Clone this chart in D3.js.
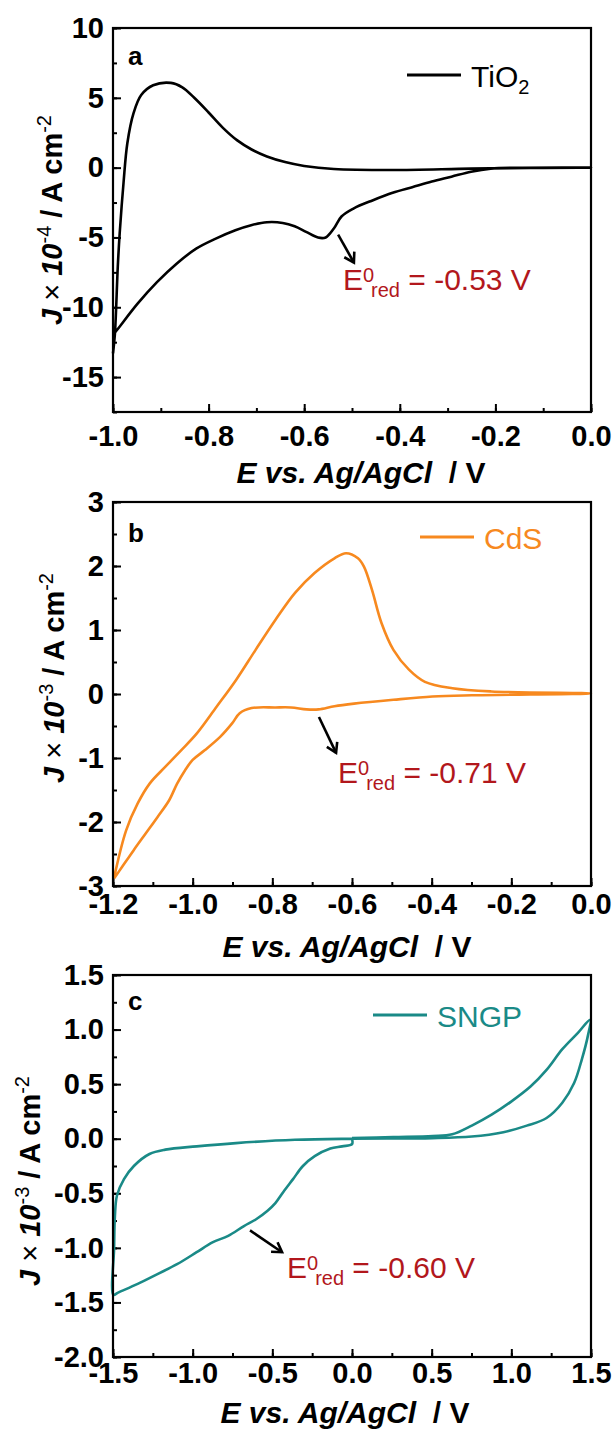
<!DOCTYPE html>
<html>
<head>
<meta charset="utf-8">
<script src="https://cdn.jsdelivr.net/npm/d3@7"></script>
<style>
  body { margin: 0; background: #fff; }
  text { font-family: Arial, "Liberation Sans", sans-serif; }
</style>
</head>
<body>
<div id="chart"></div>
<script>
// ---- values (E in V, J in the panel's units) ----

// a: TiO2, J x 10^-4 A cm^-2
const tio2E = [-1.000, -0.996, -0.990, -0.986, -0.978, -0.970, -0.957, -0.941, -0.916, -0.879,
  -0.855, -0.830, -0.800, -0.770, -0.740, -0.710, -0.678, -0.640, -0.600, -0.538, -0.415, -0.251,
  -0.127, 0.000, -0.150, -0.210, -0.251, -0.292, -0.333, -0.374, -0.415, -0.456, -0.497, -0.522,
  -0.538, -0.555, -0.571, -0.596, -0.620, -0.645, -0.678, -0.711, -0.744, -0.785, -0.826, -0.867,
  -0.908, -0.949, -0.990, -0.998];
const tio2J = [-13.3, -11.9, -7.1, -4.7, -1.1, 1.75, 3.9, 5.2, 5.9, 6.07,
  5.75, 5.0, 3.95, 2.85, 1.95, 1.3, 0.8, 0.4, 0.12, -0.1, -0.17, -0.07,
  -0.02, 0.0, -0.01, -0.07, -0.29, -0.65, -1.0, -1.4, -1.8, -2.33, -2.93, -3.5,
  -4.36, -5.0, -5.01, -4.6, -4.2, -3.96, -3.91, -4.12, -4.48, -5.08, -5.8, -6.88,
  -8.2, -9.76, -11.56, -11.9];

// b: CdS, J x 10^-3 A cm^-2
const cdsE = [-1.197, -1.167, -1.138, -1.108, -1.069, -1.029, -0.990, -0.940, -0.891, -0.842,
  -0.792, -0.743, -0.694, -0.644, -0.615, -0.585, -0.570, -0.550, -0.526, -0.496, -0.457, -0.417,
  -0.348, -0.250, 0.000, -0.299, -0.398, -0.496, -0.595, -0.644, -0.684, -0.714, -0.753, -0.792,
  -0.852, -0.882, -0.901, -0.931, -0.970, -1.000, -1.019, -1.039, -1.059, -1.088, -1.118, -1.148,
  -1.177, -1.197];
const cdsJ = [-2.86, -2.13, -1.71, -1.40, -1.14, -0.88, -0.62, -0.20, 0.22, 0.69,
  1.16, 1.58, 1.89, 2.12, 2.20, 2.12, 1.99, 1.63, 1.11, 0.69, 0.38, 0.19,
  0.09, 0.04, 0.01, -0.02, -0.04, -0.09, -0.15, -0.19, -0.24, -0.24, -0.21, -0.21,
  -0.22, -0.30, -0.46, -0.67, -0.88, -1.03, -1.19, -1.40, -1.66, -1.92, -2.18, -2.44,
  -2.70, -2.88];

// c: SNGP, J x 10^-3 A cm^-2
const sngpE = [0.000, 0.000, -0.062, -0.136, -0.234, -0.308, -0.370, -0.432, -0.481, -0.530,
  -0.604, -0.678, -0.777, -0.876, -0.975, -1.098, -1.221, -1.345, -1.468, -1.497, -1.493, -1.488,
  -1.475, -1.431, -1.369, -1.271, -1.172, -0.975, -0.728, -0.358, 0.000, 0.506, 0.752, 0.950,
  1.097, 1.221, 1.320, 1.394, 1.443, 1.480, 1.495, 1.418, 1.320, 1.221, 1.122, 0.999, 0.876,
  0.752, 0.629, 0.506, 0.259, 0.000];
const sngpJ = [0.00, -0.05, -0.07, -0.09, -0.16, -0.25, -0.37, -0.49, -0.59, -0.66,
  -0.74, -0.80, -0.89, -0.95, -1.04, -1.15, -1.24, -1.33, -1.41, -1.43, -1.00, -0.71,
  -0.52, -0.37, -0.25, -0.14, -0.10, -0.07, -0.04, -0.01, 0.00, 0.005, 0.02, 0.06,
  0.12, 0.19, 0.33, 0.51, 0.73, 0.94, 1.09, 0.97, 0.82, 0.63, 0.48, 0.34, 0.22,
  0.12, 0.04, 0.024, 0.015, 0.006];

// ticks
const xTicksA = [-1.0, -0.8, -0.6, -0.4, -0.2, 0.0];
const xLabelsA = ["-1.0", "-0.8", "-0.6", "-0.4", "-0.2", "0.0"];
const yTicksA = [10, 5, 0, -5, -10, -15];
const yLabelsA = ["10", "5", "0", "-5", "-10", "-15"];

const xTicksB = [-1.2, -1.0, -0.8, -0.6, -0.4, -0.2, 0.0];
const xLabelsB = ["-1.2", "-1.0", "-0.8", "-0.6", "-0.4", "-0.2", "0.0"];
const yTicksB = [3, 2, 1, 0, -1, -2, -3];
const yLabelsB = ["3", "2", "1", "0", "-1", "-2", "-3"];

const xTicksC = [-1.5, -1.0, -0.5, 0.0, 0.5, 1.0, 1.5];
const xLabelsC = ["-1.5", "-1.0", "-0.5", "0.0", "0.5", "1.0", "1.5"];
const yTicksC = [1.5, 1.0, 0.5, 0.0, -0.5, -1.0, -1.5, -2.0];
const yLabelsC = ["1.5", "1.0", "0.5", "0.0", "-0.5", "-1.0", "-1.5", "-2.0"];

// labelled reduction peaks: [arrow start E, J, arrow tip E, J, text E, J]
const peakA = [-0.529, -4.8, -0.496, -6.8, -0.519, -8.74];
const peakB = [-0.683, -0.36, -0.640, -0.92, -0.635, -1.39];
const peakC = [-0.640, -0.84, -0.439, -1.04, -0.408, -1.28];

const svg = d3.select("#chart").append("svg")
    .attr("width", 616)
    .attr("height", 1429)
    .style("background", "#fff");

const panels = [
  { E: tio2E, J: tio2J, xDomain: [-1.0, 0.0], yDomain: [-17.5, 10], top: 28, bottom: 412,
    xTicks: xTicksA, xLabels: xLabelsA, xMinorStep: 0.1, yTicks: yTicksA, yLabels: yLabelsA, yMinorStep: 2.5,
    color: "#000", name: "TiO", sub: "2", exp: "-4", letter: "a", peak: peakA, peakText: " = -0.53 V",
    xPad: 13, xTitleX: 361, xTitleY: 483, yTitleX: 62, yTitleY: 220,
    legX: 294, legY: 47, letterY: 37 },
  { E: cdsE, J: cdsJ, xDomain: [-1.2, 0.0], yDomain: [-3, 3], top: 502, bottom: 886,
    xTicks: xTicksB, xLabels: xLabelsB, xMinorStep: 0.1, yTicks: yTicksB, yLabels: yLabelsB, yMinorStep: 0.5,
    color: "#f7891f", name: "CdS", sub: "", exp: "-3", letter: "b", peak: peakB, peakText: " = -0.71 V",
    xPad: 7, xTitleX: 347, xTitleY: 957, yTitleX: 64, yTitleY: 678,
    legX: 307, legY: 35, letterY: 40 },
  { E: sngpE, J: sngpJ, xDomain: [-1.5, 1.5], yDomain: [-2.0, 1.5], top: 975, bottom: 1357,
    xTicks: xTicksC, xLabels: xLabelsC, xMinorStep: 0.25, yTicks: yTicksC, yLabels: yLabelsC, yMinorStep: 0.25,
    color: "#1a8a87", name: "SNGP", sub: "", exp: "-3", letter: "c", peak: peakC, peakText: " = -0.60 V",
    xPad: 5, xTitleX: 345, xTitleY: 1423, yTitleX: 40, yTitleY: 1181,
    legX: 260, legY: 40, letterY: 35 }
];

const left = 113, right = 591;

panels.forEach(p => {
  const x = d3.scaleLinear().domain(p.xDomain).range([left, right]);
  const y = d3.scaleLinear().domain(p.yDomain).range([p.bottom, p.top]);
  const g = svg.append("g");

  // minor ticks
  const xMinor = d3.range(p.xDomain[0], p.xDomain[1] + 1e-9, p.xMinorStep);
  const yMinor = d3.range(p.yDomain[0], p.yDomain[1] + 1e-9, p.yMinorStep);
  g.append("g").attr("transform", `translate(0,${p.bottom})`)
      .call(d3.axisBottom(x).tickValues(xMinor).tickSize(-4).tickFormat(""));
  g.append("g").attr("transform", `translate(${left},0)`)
      .call(d3.axisLeft(y).tickValues(yMinor).tickSize(-4).tickFormat(""));

  // major ticks and labels
  g.append("g").attr("transform", `translate(0,${p.bottom})`)
      .call(d3.axisBottom(x).tickValues(p.xTicks).tickSize(-8).tickPadding(p.xPad)
        .tickFormat((d, i) => p.xLabels[i]));
  g.append("g").attr("transform", `translate(${left},0)`)
      .call(d3.axisLeft(y).tickValues(p.yTicks).tickSize(-8).tickPadding(9)
        .tickFormat((d, i) => p.yLabels[i]));

  g.selectAll(".domain").remove();
  g.selectAll(".tick line").attr("stroke", "#000").attr("stroke-width", 2);
  g.selectAll(".tick text")
      .attr("fill", "#000")
      .style("font-size", "29px")
      .style("font-weight", "bold")
      .style("font-family", "Arial, 'Liberation Sans', sans-serif");

  // the CV loop
  const line = d3.line()
      .x(d => x(d[0]))
      .y(d => y(d[1]))
      .curve(d3.curveCatmullRom.alpha(0.5));
  g.append("path")
      .datum(d3.zip(p.E, p.J))
      .attr("fill", "none")
      .attr("stroke", p.color)
      .attr("stroke-width", 2.6)
      .attr("stroke-linejoin", "round")
      .attr("d", line);

  // frame
  g.append("rect")
      .attr("x", left).attr("y", p.top)
      .attr("width", right - left).attr("height", p.bottom - p.top)
      .attr("fill", "none").attr("stroke", "#000").attr("stroke-width", 2.2);

  // panel letter
  g.append("text")
      .attr("x", left + 15).attr("y", p.top + p.letterY)
      .style("font-size", "26px").style("font-weight", "bold")
      .text(p.letter);

  // legend
  const lx = left + p.legX, ly = p.top + p.legY;
  g.append("line")
      .attr("x1", lx).attr("x2", lx + 54).attr("y1", ly).attr("y2", ly)
      .attr("stroke", p.color).attr("stroke-width", 2.8);
  const lt = g.append("text")
      .attr("x", lx + 64).attr("y", ly + 12)
      .attr("fill", p.color)
      .style("font-size", "30px");
  lt.append("tspan").text(p.name);
  if (p.sub) lt.append("tspan").attr("dy", 7).style("font-size", "20px").text(p.sub);

  // peak arrow + label
  const [sx, sy, tx, ty, txE, txJ] = p.peak;
  const x1 = x(sx), y1 = y(sy), x2 = x(tx), y2 = y(ty);
  const ang = Math.atan2(y2 - y1, x2 - x1);
  const ah = 11;
  g.append("line")
      .attr("x1", x1).attr("y1", y1).attr("x2", x2).attr("y2", y2)
      .attr("stroke", "#000").attr("stroke-width", 2.6);
  g.append("path")
      .attr("d", `M${x2 - ah * Math.cos(ang - 0.55)},${y2 - ah * Math.sin(ang - 0.55)}L${x2},${y2}L${x2 - ah * Math.cos(ang + 0.55)},${y2 - ah * Math.sin(ang + 0.55)}`)
      .attr("fill", "none").attr("stroke", "#000").attr("stroke-width", 2.6)
      .attr("stroke-linejoin", "miter");
  const at = g.append("text")
      .attr("x", x(txE)).attr("y", y(txJ))
      .attr("fill", "#b2171c")
      .style("font-size", "30px");
  at.append("tspan").text("E");
  at.append("tspan").attr("dy", -8).style("font-size", "20px").text("0");
  at.append("tspan").attr("dx", -3).attr("dy", 15).style("font-size", "20px").text("red");
  at.append("tspan").attr("dy", -7).style("white-space", "pre").text(p.peakText);

  // x title
  const xt = g.append("text")
      .attr("x", p.xTitleX).attr("y", p.xTitleY)
      .attr("text-anchor", "middle")
      .style("font-size", "30px").style("font-weight", "bold")
      .style("white-space", "pre");
  xt.append("tspan").style("font-style", "italic").text("E vs. Ag/AgCl");
  xt.append("tspan").text("  / V");

  // y title
  const yt = g.append("text")
      .attr("transform", `translate(${p.yTitleX},${p.yTitleY}) rotate(-90)`)
      .attr("text-anchor", "middle")
      .style("font-size", "29px").style("font-weight", "bold")
      .style("white-space", "pre");
  yt.append("tspan").style("font-style", "italic").text("J ");
  yt.append("tspan").style("font-weight", "normal").text("\u00d7 ");
  yt.append("tspan").style("font-style", "italic").text("10");
  yt.append("tspan").attr("dy", -11).style("font-size", "20px").style("font-weight", "normal").text(p.exp);
  yt.append("tspan").attr("dy", 11).text(" / A cm");
  yt.append("tspan").attr("dy", -11).style("font-size", "20px").style("font-weight", "normal").text("-2");
});
</script>
</body>
</html>
